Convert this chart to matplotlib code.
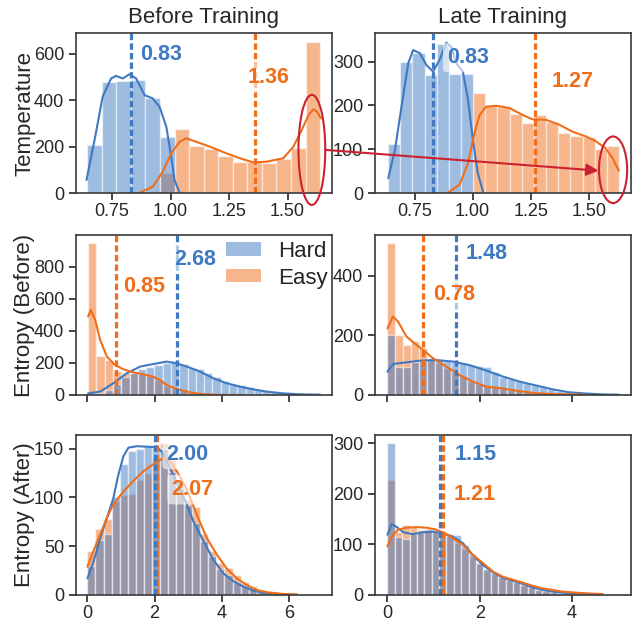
import numpy as np
import matplotlib.pyplot as plt
import seaborn as sns
from matplotlib.patches import Ellipse, ConnectionPatch, Patch

sns.set_style('ticks')
plt.rcParams['font.family'] = ['Liberation Sans', 'DejaVu Sans']
plt.rcParams['axes.edgecolor'] = '#3a3a3a'
plt.rcParams['text.color'] = '#262626'

BLUE = '#3f79c2'
ORANGE = '#f06d1a'
RED = '#cc2230'

# ---------------- Temperature, before training
tb_start, tb_width = 0.644, 0.0622
tb_hard = [207, 480, 485, 487, 409, 241, 0, 0, 0, 0, 0, 0, 0, 0, 0, 0]
tb_easy = [0, 0, 0, 0, 0, 85, 277, 204, 189, 160, 133, 133, 128, 146, 196, 650]
tb_kde_hard_x = [0.641, 0.681, 0.710, 0.746, 0.767, 0.796, 0.824, 0.853, 0.889, 0.924, 0.953, 0.982, 1.003, 1.017, 1.039]
tb_kde_hard_y = [56, 258, 416, 494, 505, 494, 512, 494, 422, 408, 372, 286, 157, 56, 1]
tb_kde_easy_x = [0.867, 0.924, 0.967, 1.003, 1.039, 1.067, 1.110, 1.168, 1.239, 1.296, 1.353, 1.411, 1.482, 1.525, 1.561, 1.590, 1.611, 1.626, 1.643]
tb_kde_easy_y = [1, 27, 92, 171, 221, 236, 221, 200, 171, 150, 132, 135, 150, 200, 272, 337, 361, 351, 322]
tb_means = (0.83, 1.36)

# ---------------- Temperature, late training
tl_start, tl_width = 0.636, 0.0523
tl_hard = [112, 298, 320, 269, 339, 272, 272, 0, 0, 0, 0, 0, 0, 0, 0, 0, 0, 0, 0]
tl_easy = [0, 0, 0, 0, 0, 0, 0, 229, 199, 196, 180, 159, 178, 162, 138, 129, 127, 100, 108]
tl_kde_hard_x = [0.637, 0.666, 0.694, 0.723, 0.744, 0.773, 0.801, 0.830, 0.858, 0.887, 0.908, 0.930, 0.958, 0.980, 1.001, 1.022, 1.044]
tl_kde_hard_y = [34, 99, 197, 296, 326, 319, 292, 277, 304, 343, 334, 296, 277, 213, 121, 46, 4]
tl_kde_easy_x = [0.894, 0.944, 0.980, 1.008, 1.030, 1.058, 1.101, 1.158, 1.215, 1.258, 1.315, 1.372, 1.429, 1.487, 1.530, 1.572, 1.601, 1.629]
tl_kde_easy_y = [1, 19, 68, 137, 178, 197, 199, 194, 178, 168, 167, 156, 140, 129, 118, 102, 80, 51]
tl_means = (0.83, 1.27)

# ---------------- Entropy (Before), before training
eb_start, eb_width = 0.02, 0.2468
eb_hard = [6, 12, 30, 70, 110, 135, 160, 175, 190, 200, 212, 195, 170, 160, 135, 110, 90, 70, 60, 48, 36, 26, 18, 12, 6, 4, 2, 1]
eb_easy = [946, 245, 220, 152, 140, 135, 130, 120, 95, 55, 45, 30, 20, 12, 8, 5, 3, 2, 1, 1, 0, 0, 0, 0, 0, 0, 0, 0]
eb_kde_hard_x = [0.02, 0.38, 0.77, 1.17, 1.57, 1.96, 2.36, 2.66, 2.96, 3.35, 3.75, 4.15, 4.54, 4.94, 5.34, 5.83, 6.33, 6.93]
eb_kde_hard_y = [10, 21, 73, 135, 177, 193, 208, 197, 177, 146, 104, 73, 52, 35, 21, 10, 4, 2]
eb_kde_easy_x = [0.02, 0.1, 0.23, 0.38, 0.58, 0.82, 1.07, 1.37, 1.67, 1.96, 2.16, 2.36, 2.66, 2.96, 3.35, 3.85, 4.6]
eb_kde_easy_y = [489, 530, 468, 343, 239, 187, 160, 141, 129, 114, 93, 62, 37, 21, 6, 1, 0]
eb_means = (0.85, 2.68)

# ---------------- Entropy (Before), late training
el_start, el_width = 0.0, 0.173
el_hard = [200, 95, 95, 112, 115, 120, 116, 114, 110, 108, 100, 96, 95, 76, 60, 52, 46, 40, 33, 28, 20, 15, 10, 7, 5, 3, 2, 1, 1]
el_easy = [508, 201, 168, 181, 158, 123, 108, 92, 78, 62, 48, 38, 30, 26, 22, 18, 13, 10, 7, 5, 3, 2, 2, 1, 1, 0, 0, 0, 0]
el_kde_hard_x = [0, 0.12, 0.34, 0.70, 1.06, 1.42, 1.78, 2.14, 2.50, 2.86, 3.22, 3.58, 3.94, 4.30, 4.66, 5.02]
el_kde_hard_y = [78, 104, 108, 115, 117, 112, 100, 82, 62, 45, 32, 19, 9, 5, 2, 1]
el_kde_easy_x = [0, 0.12, 0.23, 0.41, 0.63, 0.77, 0.99, 1.28, 1.56, 1.85, 2.14, 2.50, 2.86, 3.22, 3.58, 4.30]
el_kde_easy_y = [223, 263, 246, 196, 168, 151, 123, 95, 67, 45, 28, 22, 13, 6, 3, 1]
el_means = (0.78, 1.48)

# ---------------- Entropy (After), before training
ab_start, ab_width = 0.0, 0.24
ab_hard = [30, 56, 62, 100, 134, 148, 150, 153, 152, 150, 126, 110, 92, 74, 55, 40, 27, 20, 13, 9, 6, 4, 2, 1, 0, 0]
ab_easy = [45, 68, 78, 96, 102, 104, 118, 125, 140, 156, 140, 116, 98, 90, 62, 45, 33, 28, 20, 13, 9, 5, 3, 2, 1, 1]
ab_kde_hard_x = [0, 0.18, 0.38, 0.58, 0.77, 0.92, 1.07, 1.22, 1.47, 1.77, 2.06, 2.21, 2.36, 2.56, 2.76, 2.96, 3.16, 3.46, 3.75, 4.05, 4.35, 4.64, 4.94, 5.24, 5.54, 5.84]
ab_kde_hard_y = [17, 34, 58, 79, 99, 123, 142, 151, 152.5, 152, 151.5, 147, 137, 123, 108, 92.5, 75, 55, 36, 22, 14, 8.6, 4.5, 2.4, 1.4, 0.7]
ab_kde_easy_x = [0, 0.18, 0.38, 0.58, 0.77, 1.07, 1.37, 1.67, 1.96, 2.26, 2.46, 2.66, 2.96, 3.26, 3.56, 3.86, 4.15, 4.45, 4.75, 5.05, 5.35, 5.85, 6.24]
ab_kde_easy_y = [29, 45, 62, 79, 93, 106, 117, 127, 134, 140.5, 137, 127, 108, 82, 58, 41, 27, 17, 10, 5, 2.8, 1, 0.7]
ab_means = (2.07, 2.00)

# ---------------- Entropy (After), late training
al_start, al_width = 0.0, 0.16
al_hard = [300, 115, 111, 120, 124, 126, 124, 120, 117, 118, 98, 80, 64, 52, 45, 35, 30, 26, 20, 15, 10, 8, 5, 4, 3, 2, 1, 1, 0]
al_easy = [227, 125, 138, 134, 128, 130, 127, 124, 120, 102, 90, 75, 62, 50, 42, 36, 33, 26, 22, 16, 12, 9, 6, 4, 3, 2, 2, 1, 1]
al_kde_hard_x = [0, 0.09, 0.19, 0.34, 0.55, 0.77, 0.99, 1.20, 1.42, 1.64, 1.85, 2.07, 2.29, 2.50, 2.72, 2.93, 3.15, 3.36, 3.58, 3.80, 4.01, 4.30, 4.66]
al_kde_hard_y = [119, 140, 135, 124, 120, 124, 125, 122, 115, 102, 79, 59, 45, 34, 28, 22, 15, 10, 6.6, 4.6, 3.4, 2.6, 1.4]
al_kde_easy_x = [0, 0.09, 0.23, 0.41, 0.63, 0.84, 1.06, 1.24, 1.42, 1.64, 1.85, 2.07, 2.29, 2.50, 2.72, 2.93, 3.15, 3.36, 3.58, 3.80, 4.09, 4.38, 4.66]
al_kde_easy_y = [96, 115, 129, 133, 134, 133, 129, 122, 112, 99, 79, 63, 46, 36, 30, 24.5, 18, 13, 10, 6.6, 4.6, 2.6, 2]
al_means = (1.21, 1.15)

fig = plt.figure(figsize=(6.44, 6.24), dpi=100)
lefts = [0.118, 0.5823]
bottoms = [0.6907, 0.367, 0.0465]
axes = [[fig.add_axes([l, b, 0.3975, 0.2564]) for l in lefts] for b in bottoms]


def panel(ax, start, width, hard, easy, kh, ke, means, txt_e, txt_h):
    n = len(hard)
    left = start + width * np.arange(n)
    # easy first, hard layered on top -> greyish overlap
    ax.bar(left, easy, width=width, align='edge', color=ORANGE, alpha=0.5,
           edgecolor='white', linewidth=1)
    ax.bar(left, hard, width=width, align='edge', color=BLUE, alpha=0.5,
           edgecolor='white', linewidth=1)
    ax.plot(kh[0], kh[1], color=BLUE, lw=1.5)
    ax.plot(ke[0], ke[1], color=ORANGE, lw=1.5)
    m_easy, m_hard = means
    ax.axvline(m_easy, color=ORANGE, lw=2.3, ls=(0, (2, 1)))
    ax.axvline(m_hard, color=BLUE, lw=2.3, ls=(0, (2, 1)))
    box = dict(boxstyle='round,pad=0.2', facecolor='white', alpha=0.6, edgecolor='none')
    ax.text(txt_e[0], txt_e[1], f'{m_easy:.2f}', color=ORANGE, fontsize=15.5,
            fontweight='bold', ha='left', va='center', bbox=box)
    ax.text(txt_h[0], txt_h[1], f'{m_hard:.2f}', color=BLUE, fontsize=15.5,
            fontweight='bold', ha='left', va='center', bbox=box)
    ax.tick_params(labelsize=13, length=5, width=1.2)
    ax.tick_params(axis='x', pad=2.5)
    for s in ax.spines.values():
        s.set_linewidth(1.2)


# row 1: temperature
ax = axes[0][0]
panel(ax, tb_start, tb_width, tb_hard, tb_easy, (tb_kde_hard_x, tb_kde_hard_y),
      (tb_kde_easy_x, tb_kde_easy_y), (tb_means[1], tb_means[0]), (1.329, 496), (0.871, 596))
ax.set_xlim(0.596, 1.69)
ax.set_ylim(0, 690)
ax.set_xticks([0.75, 1.00, 1.25, 1.50])
ax.set_yticks([0, 200, 400, 600])
ax.set_title('Before Training', fontsize=16, pad=7)
ax.set_ylabel('Temperature', fontsize=16, labelpad=-1)

ax = axes[0][1]
panel(ax, tl_start, tl_width, tl_hard, tl_easy, (tl_kde_hard_x, tl_kde_hard_y),
      (tl_kde_easy_x, tl_kde_easy_y), (tl_means[1], tl_means[0]), (1.339, 254), (0.891, 309))
ax.set_xlim(0.58, 1.681)
ax.set_ylim(0, 365)
ax.set_xticks([0.75, 1.00, 1.25, 1.50])
ax.set_yticks([0, 100, 200, 300])
ax.set_title('Late Training', fontsize=16, pad=7)

# row 2: entropy before
ax = axes[1][0]
panel(ax, eb_start, eb_width, eb_hard, eb_easy, (eb_kde_hard_x, eb_kde_hard_y),
      (eb_kde_easy_x, eb_kde_easy_y), eb_means, (1.07, 675), (2.58, 846))
ax.set_xlim(-0.34, 7.28)
ax.set_ylim(0, 997)
ax.set_xticks([0, 2, 4, 6])
ax.set_xticklabels([])
ax.set_yticks([0, 200, 400, 600, 800])
ax.set_ylabel('Entropy (Before)', fontsize=16, labelpad=-1)
handles = [Patch(facecolor=BLUE, alpha=0.5, edgecolor='none'),
           Patch(facecolor=ORANGE, alpha=0.5, edgecolor='none')]
ax.legend(handles, ['Hard', 'Easy'], loc='upper right', bbox_to_anchor=(1.0, 0.99),
          frameon=False, fontsize=16, borderaxespad=0, borderpad=0.2,
          handlelength=1.6, handleheight=0.55, handletextpad=0.75, labelspacing=0.25)

ax = axes[1][1]
panel(ax, el_start, el_width, el_hard, el_easy, (el_kde_hard_x, el_kde_hard_y),
      (el_kde_easy_x, el_kde_easy_y), el_means, (0.99, 338), (1.69, 475))
ax.set_xlim(-0.27, 5.28)
ax.set_ylim(0, 536)
ax.set_xticks([0, 2, 4])
ax.set_xticklabels([])
ax.set_yticks([0, 200, 400])

# row 3: entropy after
ax = axes[2][0]
panel(ax, ab_start, ab_width, ab_hard, ab_easy, (ab_kde_hard_x, ab_kde_hard_y),
      (ab_kde_easy_x, ab_kde_easy_y), ab_means, (2.51, 108), (2.36, 144))
ax.set_xlim(-0.34, 7.28)
ax.set_ylim(0, 164)
ax.set_xticks([0, 2, 4, 6])
ax.set_yticks([0, 50, 100, 150])
ax.set_ylabel('Entropy (After)', fontsize=16, labelpad=-1)

ax = axes[2][1]
panel(ax, al_start, al_width, al_hard, al_easy, (al_kde_hard_x, al_kde_hard_y),
      (al_kde_easy_x, al_kde_easy_y), al_means, (1.43, 199), (1.455, 277))
ax.set_xlim(-0.27, 5.28)
ax.set_ylim(0, 316)
ax.set_xticks([0, 2, 4])
ax.set_yticks([0, 100, 200, 300])

fig.align_ylabels([axes[0][0], axes[1][0], axes[2][0]])

# red highlight of the high-temperature tail and the arrow between panels
a_left, a_right = axes[0][0], axes[0][1]
a_left.add_patch(Ellipse((1.604, 186), 0.1146, 475, fill=False, edgecolor=RED,
                         lw=1.5, clip_on=False, zorder=5))
a_right.add_patch(Ellipse((1.604, 53), 0.121, 152, fill=False, edgecolor=RED,
                          lw=1.5, clip_on=False, zorder=5))
con = ConnectionPatch(xyA=(1.661, 186), coordsA=a_left.transData,
                      xyB=(1.541, 51), coordsB=a_right.transData,
                      arrowstyle='-|>', mutation_scale=18, color=RED, lw=1.5, zorder=6)
fig.add_artist(con)

fig.savefig('out.png', dpi=100)
